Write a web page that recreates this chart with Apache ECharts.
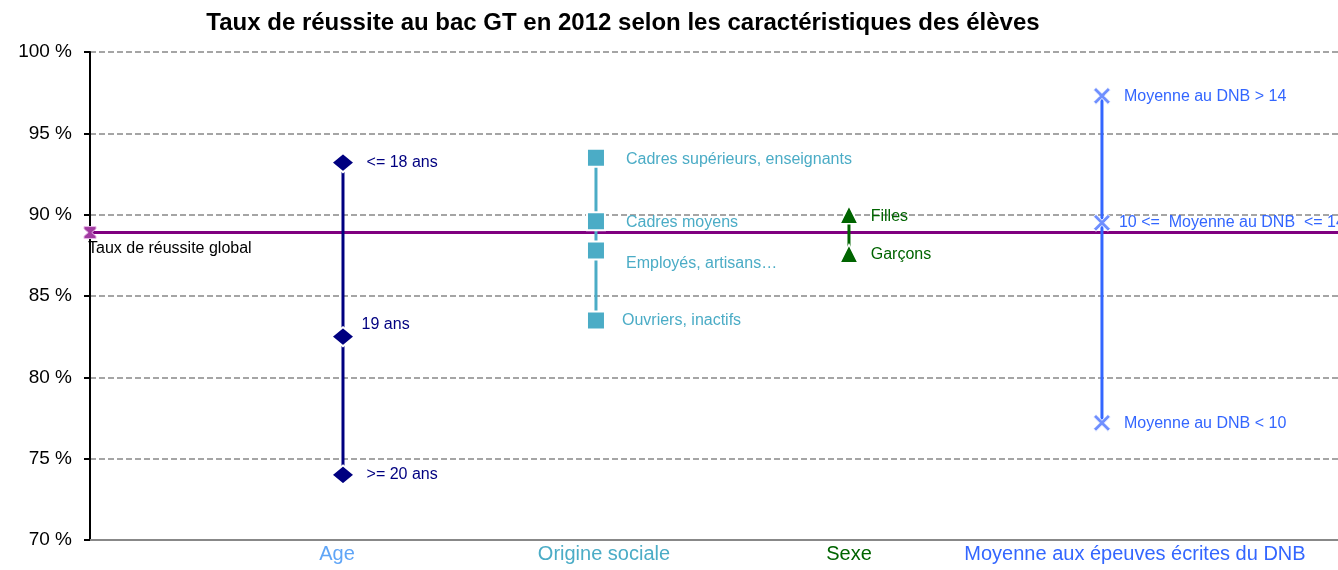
<!DOCTYPE html>
<html>
<head>
<meta charset="utf-8">
<script src="https://cdn.jsdelivr.net/npm/echarts@6/dist/echarts.min.js"></script>
<style>
  html, body { margin: 0; padding: 0; background: #fff; }
  #chart { width: 1338px; height: 570px; }
</style>
</head>
<body>
<div id="chart"></div>
<script>
// groupes (axe horizontal)
const categories = ['Age', 'Origine sociale', 'Sexe', 'Moyenne aux épeuves écrites du DNB'];
const catColors = ['#5fa5f7', '#4bacc6', '#006400', '#3366ff'];

// taux de réussite par groupe (%)
const ageNames = ['<= 18 ans', '19 ans', '>= 20 ans'];
const ageValues = [93.2, 82.5, 74.0];
const origineNames = ['Cadres supérieurs, enseignants', 'Cadres moyens', 'Employés, artisans…', 'Ouvriers, inactifs'];
const origineValues = [93.5, 89.6, 87.8, 83.5];
const sexeNames = ['Filles', 'Garçons'];
const sexeValues = [90.0, 87.6];
const dnbNames = ['Moyenne au DNB > 14', '10 <=  Moyenne au DNB  <= 14', 'Moyenne au DNB < 10'];
const dnbValues = [97.3, 89.5, 77.2];
const globalName = 'Taux de réussite global';
const globalValue = 88.9;

// axe des y
const yMin = 70, yMax = 100, yStep = 5;

var chart = echarts.init(document.getElementById('chart'));

const crossPath = 'path://M0,1.5 L1.5,0 L5,3.5 L8.5,0 L10,1.5 L6.5,5 L10,8.5 L8.5,10 L5,6.5 L1.5,10 L0,8.5 L3.5,5 Z';
const hourglassPath = 'path://M0,0 L10,0 L10,2 L6.5,5 L10,8 L10,10 L0,10 L0,8 L3.5,5 L0,2 Z';
const labelFont = 'Liberation Sans, Arial, sans-serif';

// construit une serie verticale pour un groupe
const makeGroup = (idx, names, values, color, markColor, symbol, symbolSize, dist, labelOffsets, border) => ({
  name: categories[idx],
  type: 'line',
  symbol: symbol,
  symbolSize: symbolSize,
  lineStyle: { color: color, width: 3 },
  itemStyle: { color: markColor, borderColor: '#fff', borderWidth: border },
  z: 3,
  data: values.map((v, i) => ({
    value: [idx + 1, v],
    name: names[i],
    label: {
      show: true,
      position: 'right',
      distance: dist,
      offset: labelOffsets[i] || [0, 0],
      color: color,
      fontSize: 16,
      fontFamily: labelFont,
      formatter: '{b}'
    }
  }))
});

chart.setOption({
  animation: false,
  title: {
    text: 'Taux de réussite au bac GT en 2012 selon les caractéristiques des élèves',
    left: 618,
    textAlign: 'center',
    top: 6,
    textStyle: { fontSize: 24, fontWeight: 'bold', color: '#000', fontFamily: labelFont }
  },
  grid: { left: 90, right: 0, top: 52, bottom: 30, containLabel: false },
  xAxis: {
    type: 'value',
    min: 0,
    max: 4.933,
    interval: 1,
    axisLine: { show: true, lineStyle: { color: '#888', width: 2 } },
    axisTick: { show: false },
    splitLine: { show: false },
    axisLabel: {
      margin: 4,
      fontSize: 20,
      fontFamily: labelFont,
      showMaxLabel: false,
      formatter: (v) => {
        const i = Math.round(v) - 1;
        return categories[i] ? '{c' + i + '|' + categories[i] + '}' : '';
      },
      rich: {
        c0: { color: catColors[0], fontSize: 20, fontFamily: labelFont, padding: [0, 12, 0, 0] },
        c1: { color: catColors[1], fontSize: 20, fontFamily: labelFont, padding: [0, 0, 0, 16] },
        c2: { color: catColors[2], fontSize: 20, fontFamily: labelFont },
        c3: { color: catColors[3], fontSize: 20, fontFamily: labelFont, padding: [0, 0, 0, 66] }
      }
    }
  },
  yAxis: {
    type: 'value',
    min: yMin,
    max: yMax,
    interval: yStep,
    axisLine: { show: true, lineStyle: { color: '#000', width: 2 } },
    axisTick: { show: true, length: 6, lineStyle: { color: '#000', width: 2 } },
    axisLabel: {
      formatter: '{value} %',
      fontSize: 19,
      color: '#000',
      fontFamily: labelFont,
      margin: 18
    },
    splitLine: { show: true, lineStyle: { color: '#888', width: 1.5, type: [6, 3] } }
  },
  series: [
    makeGroup(0, ageNames, ageValues, '#000080', '#000080', 'diamond', [23, 19], 11, [[0, 0], [-5, -12], [0, 0]], 2),
    makeGroup(1, origineNames, origineValues, '#4bacc6', '#4bacc6', 'rect', 18, 20, [[0, 2], [0, 1], [0, 13], [-4, 0]], 2),
    makeGroup(2, sexeNames, sexeValues, '#006400', '#006400', 'triangle', 18, 12, [[0, 2], [0, 1]], 1.5),
    makeGroup(3, dnbNames, dnbValues, '#3366ff', '#6f8fff', crossPath, 17, 13, [[0, 1], [-5, 0], [0, 1]], 1),
    {
      name: globalName,
      type: 'line',
      z: 2,
      lineStyle: { color: '#800080', width: 3 },
      itemStyle: { color: '#a23ca2', borderColor: '#e6b8e6', borderWidth: 1 },
      symbol: hourglassPath,
      symbolSize: 12,
      data: [
        {
          value: [0, globalValue],
          name: globalName,
          label: {
            show: true,
            position: 'bottom',
            align: 'left',
            distance: 2,
            offset: [-2, 0],
            color: '#000',
            fontSize: 16,
            fontFamily: labelFont,
            formatter: '{b}'
          }
        },
        { value: [4.933, globalValue], symbol: 'none' }
      ]
    }
  ]
});
</script>
</body>
</html>
